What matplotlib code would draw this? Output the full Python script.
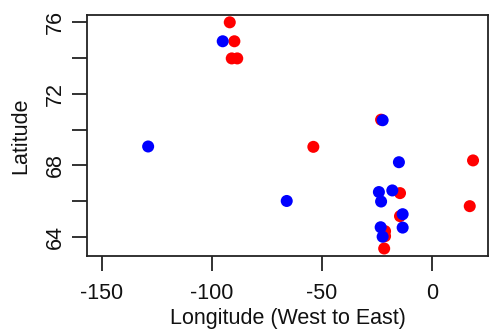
import matplotlib
matplotlib.use("Agg")
import matplotlib.pyplot as plt

plt.rcParams['font.family'] = ['Liberation Sans', 'DejaVu Sans']

red_lon = [-91.8, -89.7, -90.9, -88.4, -23.0, -53.8, 18.8, -14.4, 17.3, -14.4, -21.2, -21.2, -21.6]
red_lat = [76.0, 74.94, 73.98, 73.98, 70.55, 69.03, 68.27, 66.44, 65.71, 65.15, 64.31, 64.03, 63.34]

blue_lon = [-95.0, -22.3, -128.9, -14.9, -24.0, -17.9, -23.0, -65.9, -13.2, -13.2, -23.2, -22.3]
blue_lat = [74.94, 70.52, 69.05, 68.17, 66.5, 66.59, 65.97, 66.0, 65.26, 64.51, 64.53, 64.0]

xticks = [-150, -100, -50, 0]
yticks = [64, 66, 68, 70, 72, 74, 76]
ylabels = ['64', '', '68', '', '72', '', '76']

fig = plt.figure(figsize=(4.9, 3.32), dpi=100)
ax = fig.add_axes([87/490, 1-256/332, (488-87)/490, (256-15)/332])

ax.scatter(red_lon, red_lat, s=75, c='#FF0000', edgecolors='none', zorder=3)
ax.scatter(blue_lon, blue_lat, s=75, c='#0000FF', edgecolors='none', zorder=4)

ax.set_xlim(-156.7, 25.6)
ax.set_ylim(62.92, 76.41)
ax.set_xticks(xticks)
ax.set_xticklabels([str(t) for t in xticks])
ax.set_yticks(yticks)
ax.set_yticklabels(ylabels, rotation=90, va='center')

for sp in ax.spines.values():
    sp.set_linewidth(1.3)
    sp.set_color('#222222')

ax.tick_params(axis='both', direction='out', length=11, width=1.3, color='#222222',
               labelsize=15.5, labelcolor='#111111')
ax.tick_params(axis='x', pad=8.5)
ax.tick_params(axis='y', pad=4)

ax.set_xlabel('Longitude (West to East)', fontsize=15.5, color='#111111', labelpad=3)
ax.set_ylabel('Latitude', fontsize=15.5, color='#111111', labelpad=10)

fig.savefig('out.png', dpi=100)
